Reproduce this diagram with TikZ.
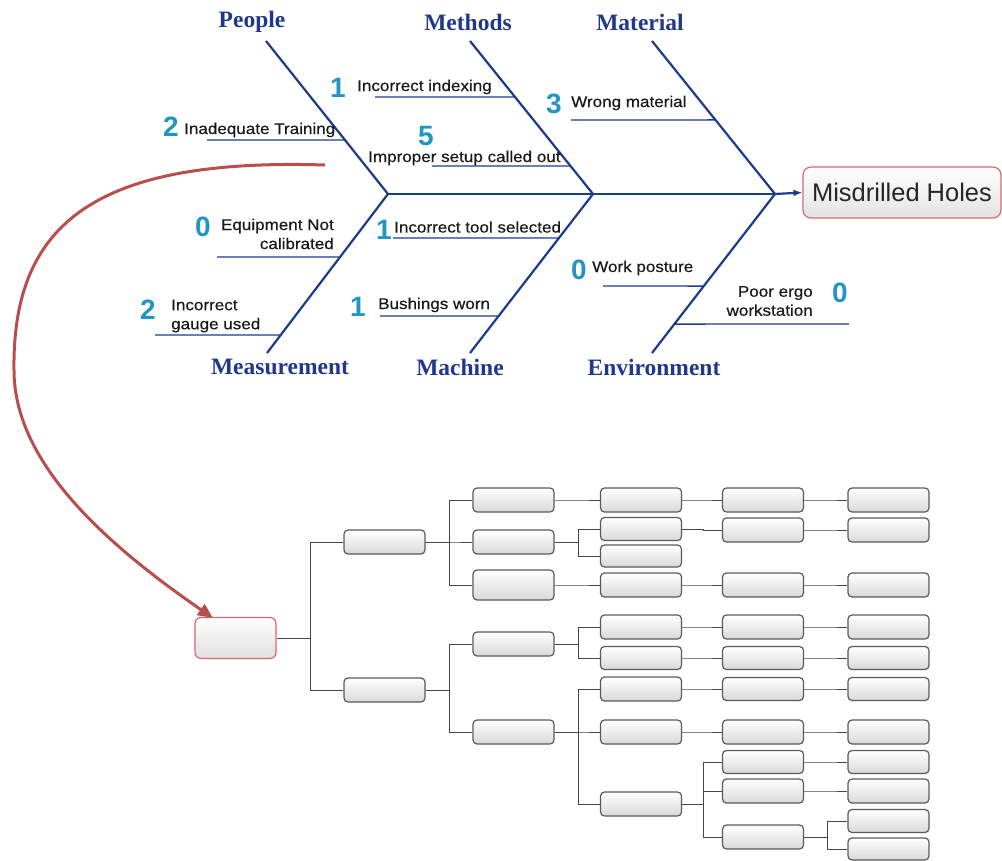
\documentclass[tikz,border=0pt]{standalone}
\usepackage{fontspec}
\usetikzlibrary{arrows.meta,calc}
\newfontfamily\catfam{Liberation Serif}
\newfontfamily\causefam[FakeStretch=1.1,FakeBold=0.5]{Liberation Sans}
\newfontfamily\sansfam{Liberation Sans}
\definecolor{boneblue}{RGB}{30,58,140}
\definecolor{catblue}{RGB}{32,56,138}
\definecolor{numteal}{RGB}{32,150,192}
\definecolor{redline}{RGB}{185,78,78}
\definecolor{redborder}{RGB}{215,105,105}
\definecolor{boxborder}{RGB}{90,90,90}
\definecolor{conncol}{RGB}{70,70,70}
\tikzset{
  bone/.style={draw=boneblue, line width=2.2pt},
  sub/.style={draw=boneblue, line width=1.4pt},
  cat/.style={font=\catfam\bfseries\fontsize{23.5}{26}\selectfont, text=catblue, inner sep=0pt},
  cause/.style={font=\causefam\fontsize{15.5}{19}\selectfont, text=black!90, inner sep=0pt},
  num/.style={font=\sansfam\bfseries\fontsize{28}{30}\selectfont, text=numteal, inner sep=0pt},
  tbox/.style={draw=boxborder, line width=1.2pt, rounded corners=4pt, top color=white, bottom color=gray!30, minimum width=81pt, minimum height=24pt, inner sep=0pt},
  rootbox/.style={draw=redborder, line width=1.2pt, rounded corners=6pt, top color=white, bottom color=gray!25, minimum width=81pt, minimum height=41pt, inner sep=0pt},
  effbox/.style={draw=redborder, line width=1.2pt, rounded corners=8pt, top color=white, bottom color=gray!22, minimum width=198pt, minimum height=51pt, inner sep=0pt, font=\sansfam\fontsize{25.5}{28}\selectfont, text=black!85},
  conn/.style={draw=conncol, line width=1pt},
  redarrow/.style={draw=redline, line width=3pt, -{Triangle[length=15pt,width=13pt]}},
}
\begin{document}
\begin{tikzpicture}[x=1pt,y=-1pt]
\useasboundingbox (0,0) rectangle (1002,861);
% ---------- Fishbone ----------
\node[effbox] (effect) at (902,192.5) {Misdrilled Holes};
\coordinate (Ptop) at (266,41);   \coordinate (Papex) at (388,194);
\coordinate (Mtop) at (470,41);   \coordinate (Mapex) at (593,194);
\coordinate (Ttop) at (652,41);   \coordinate (Tapex) at (775,194);
\coordinate (Sbot) at (267,353);
\coordinate (Hbot) at (470,353);
\coordinate (Ebot) at (652,353);
\draw[bone] (Papex) -- (Mapex) -- (Tapex);
\draw[bone,-{Latex[length=9pt,width=7pt]}] (Tapex) -- (effect.west);
\draw[bone] (Ptop) -- (Papex) -- (Sbot);
\draw[bone] (Mtop) -- (Mapex) -- (Hbot);
\draw[bone] (Ttop) -- (Tapex) -- (Ebot);
% category labels
\node[cat] (cPeople) at (252,22) {People};
\node[cat] (cMethods) at (468,22) {Methods};
\node[cat] (cMaterial) at (640,22) {Material};
\node[cat] (cMeas) at (280,367) {Measurement};
\node[cat] (cMach) at (460,367) {Machine};
\node[cat] (cEnv) at (654,367) {Environment};
% sub lines
\coordinate (s1) at (207,140);
\draw[sub] (s1) -- ($(Ptop)!0.647!(Papex)$);
\coordinate (s2) at (375,97);
\draw[sub] (s2) -- ($(Mtop)!0.366!(Mapex)$);
\coordinate (s3) at (432,166);
\draw[sub] (s3) -- ($(Mtop)!0.817!(Mapex)$);
\coordinate (s4) at (571,120);
\draw[sub] (s4) -- ($(Ttop)!0.516!(Tapex)$);
\coordinate (s5) at (217,257);
\draw[sub] (s5) -- ($(Papex)!0.396!(Sbot)$);
\coordinate (s6) at (155,335);
\draw[sub] (s6) -- ($(Papex)!0.887!(Sbot)$);
\coordinate (s7) at (393,238);
\draw[sub] (s7) -- ($(Mapex)!0.277!(Hbot)$);
\coordinate (s8) at (380,316);
\draw[sub] (s8) -- ($(Mapex)!0.767!(Hbot)$);
\coordinate (s9) at (603,286);
\draw[sub] (s9) -- ($(Tapex)!0.579!(Ebot)$);
\coordinate (s10) at (849,324);
\draw[sub] ($(Tapex)!0.818!(Ebot)$) -- (s10);
% cause texts and numbers
\node[num] (n1) at (171,127) {2};
\node[cause,anchor=west] (t1) at (184,130) {Inadequate Training};
\node[num] (n2) at (338,88) {1};
\node[cause,anchor=west] (t2) at (357,87) {Incorrect indexing};
\node[num] (n3) at (426,136) {5};
\node[cause,anchor=west] (t3) at (368,158) {Improper setup called out};
\node[num] (n4) at (554,104) {3};
\node[cause,anchor=west] (t4) at (571,103) {Wrong material};
\node[num] (n5) at (203,227) {0};
\node[cause,anchor=east,align=right] (t5) at (334,234) {Equipment Not\\calibrated};
\node[num] (n6) at (148,310) {2};
\node[cause,anchor=west,align=left] (t6) at (171,316) {Incorrect\\gauge used};
\node[num] (n7) at (384,230) {1};
\node[cause,anchor=west] (t7) at (394,227) {Incorrect tool selected};
\node[num] (n8) at (358,307) {1};
\node[cause,anchor=west] (t8) at (378,305) {Bushings worn};
\node[num] (n9) at (579,270) {0};
\node[cause,anchor=west] (t9) at (592,268) {Work posture};
\node[cause,anchor=east,align=right] (t10) at (813,301) {Poor ergo\\workstation};
\node[num] (n10) at (840,293) {0};
% ---------- Tree ----------
\node[rootbox] (root) at (235.5,638) {};
\node[tbox] (La) at (384.5,542) {};
\node[tbox] (Lb) at (384.5,690) {};
\node[tbox] (A1) at (513.5,500) {};
\node[tbox] (A2) at (513.5,542) {};
\node[tbox,minimum height=30pt] (A3) at (513.5,585) {};
\node[tbox] (B1) at (513.5,644) {};
\node[tbox] (B2) at (513.5,732) {};
\node[tbox] (C1) at (641,500) {};
\node[tbox,minimum height=23pt] (C2) at (641,529) {};
\node[tbox,minimum height=22pt] (C3) at (641,556) {};
\node[tbox] (C4) at (641,585) {};
\node[tbox] (C5) at (641,627) {};
\node[tbox,minimum height=23pt] (C6) at (641,658) {};
\node[tbox] (C7) at (641,689) {};
\node[tbox] (C8) at (641,732) {};
\node[tbox] (C9) at (641,804) {};
\node[tbox] (D1) at (763,500) {};
\node[tbox] (D2) at (763,530) {};
\node[tbox] (D4) at (763,585) {};
\node[tbox] (D5) at (763,627) {};
\node[tbox,minimum height=23pt] (D6) at (763,658) {};
\node[tbox,minimum height=23pt] (D7) at (763,689) {};
\node[tbox] (D8) at (763,732) {};
\node[tbox,minimum height=23pt] (D9) at (763,762) {};
\node[tbox] (D10) at (763,791) {};
\node[tbox] (D11) at (763,837) {};
\node[tbox] (E1) at (888.5,500) {};
\node[tbox] (E2) at (888.5,530) {};
\node[tbox] (E4) at (888.5,585) {};
\node[tbox] (E5) at (888.5,627) {};
\node[tbox,minimum height=23pt] (E6) at (888.5,658) {};
\node[tbox,minimum height=23pt] (E7) at (888.5,689) {};
\node[tbox] (E8) at (888.5,732) {};
\node[tbox,minimum height=23pt] (E9) at (888.5,762) {};
\node[tbox] (E10) at (888.5,791) {};
\node[tbox,minimum height=23pt] (E11) at (888.5,821) {};
\node[tbox,minimum height=22pt] (E12) at (888.5,849) {};
% connectors
\foreach \p/\c in {root/La, root/Lb}
  \draw[conn] (\p.east) -- ++(34,0) |- (\c.west);
\foreach \p/\c in {La/A1, La/A2, La/A3, Lb/B1, Lb/B2}
  \draw[conn] (\p.east) -- ++(24,0) |- (\c.west);
\foreach \p/\c in {A1/C1, A2/C2, A2/C3, A3/C4, B1/C5, B1/C6, B2/C7, B2/C8, B2/C9}
  \draw[conn] (\p.east) -- ++(24,0) |- (\c.west);
\foreach \p/\c in {C1/D1, C2/D2, C4/D4, C5/D5, C6/D6, C7/D7, C8/D8, C9/D9, C9/D10, C9/D11}
  \draw[conn] (\p.east) -- ++(21,0) |- (\c.west);
\foreach \p/\c in {D1/E1, D2/E2, D4/E4, D5/E5, D6/E6, D7/E7, D8/E8, D9/E9, D10/E10, D11/E11, D11/E12}
  \draw[conn] (\p.east) -- ++(23,0) |- (\c.west);
% red curved arrow
\coordinate (cstart) at (325,165);
\coordinate (cend) at (213,618);
\draw[redarrow] (cstart) .. controls (100,158) and (12,220) .. (14,370)
   .. controls (14,460) and (100,540) .. (cend);
\end{tikzpicture}
\end{document}
